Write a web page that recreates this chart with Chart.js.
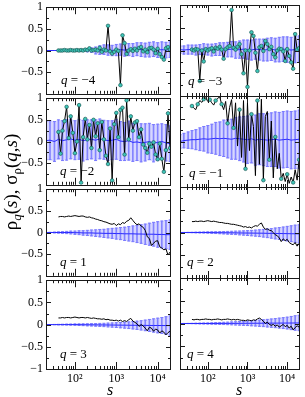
<!DOCTYPE html>
<html>
<head>
<meta charset="utf-8">
<script src="https://cdn.jsdelivr.net/npm/chart.js@4"></script>
<style>
body { margin: 0; background: #fff; }
#wrap { position: relative; width: 305px; height: 397px; font-family: 'Liberation Serif', serif; color: #000; }
#wrap canvas { position: absolute; }
.lab { position: absolute; white-space: nowrap; transform: translateY(-50%); font-size: 13px; }
.xt { position: absolute; font-size: 16px; font-style: italic; transform: translate(-50%, -50%); }
.yt { position: absolute; font-size: 19px; white-space: nowrap; transform: translate(-50%, -50%) rotate(-90deg); }
.yt sub { font-size: 13px; vertical-align: -4px; line-height: 0; }
</style>
</head>
<body>
<div id="wrap"></div>
<script>
// s grid of the rho curves and of the shuffled-data band
var sRho = [40, 45, 50, 56, 63, 71, 79, 89, 100, 112, 126, 141, 158, 178, 200, 224, 251, 282, 316, 355,
    398, 447, 501, 562, 631, 708, 794, 891, 1000, 1122, 1259, 1413, 1585, 1778, 1995, 2239, 2512, 2818, 3162, 3548,
    3981, 4467, 5012, 5623, 6310, 7079, 7943, 8913, 10000, 11220, 12589, 14125, 15849, 17783, 19953];
var sBand = [20, 25, 32, 40, 50, 63, 79, 100, 126, 158, 200, 251, 316, 398, 501, 631, 794, 1000, 1259, 1585,
    1995, 2512, 3162, 3981, 5012, 6310, 7943, 10000, 12589, 15849, 19953];

var xMajor = [100, 1000, 10000];
var xLabels = ['10²', '10³', '10⁴'];
var yTicks = [-1, -0.75, -0.5, -0.25, 0, 0.25, 0.5, 0.75, 1];

// rho_q(s)
var rhoQm4 = [0, 0, 0, 0.01, 0, 0, 0.01, 0, 0, 0.01,
    0, 0.01, 0, 0.02, 0.01, 0.05, 0, 0.01, 0.02, 0,
    0.06, -0.03, 0.02, 0, 0.57, -0.02, -0.07, -0.03, 0.02, -0.01,
    -0.8, 0.35, 0.17, -0.08, 0, 0.03, -0.01, 0.04, 0, 0.06,
    0.08, -0.02, 0.02, -0.04, 0.05, 0.06, 0.02, -0.06, 0.04, -0.08,
    -0.15, -0.21, 0.05, 0.08, 0.02];
var rhoQm3 = [0.02, 0, 0.03, 0.02, -0.67, 0, -0.24, 0.03, 0, 0.03,
    0.05, -0.02, 0.06, 0.04, 0.08, 0.02, -0.18, 0.03, 0.07, 0.1,
    0.89, 0.06, 0.02, 0.08, 0.14, -0.08, -0.5, 0, -0.8, 0,
    0.4, 0.32, -0.05, -0.45, 0.07, 0.1, -0.01, 0.21, 0.14, 0.03,
    0.08, -0.08, -0.15, 0, 0.04, 0.03, -0.02, -0.23, 0.03, -0.12,
    -0.26, -0.4, 0.36, 0.02, 0.05];
var rhoQm2 = [0.22, -0.28, 0.25, 0.47, 0.8, 0.08, 0.58, 0.2, -0.27, 0,
    0.84, -0.95, 0.1, 0.52, 0.05, 0.38, -0.15, 0.5, 0.12, 0.42,
    -0.2, 0.45, 0.05, -0.33, -0.52, 0.3, -0.9, 0.4, 0.66, 0.1,
    0.73, 0.78, -0.3, 0.95, 0.05, 0.58, 0.25, 0.44, 0.47, 0.1,
    0.28, -0.07, -0.15, -0.26, -0.05, -0.12, -0.02, -0.3, -0.41, -0.05,
    -0.4, -0.7, -0.2, 0.65, -0.15];
var rhoQm1 = [0.78, 0.73, 0.7, 0.82, 0.9, 0.86, 0.93, 0.96, 0.88, 0.92,
    0.85, 0.8, 0.9, 0.95, 0.98, 0.82, 0.7, 0.88, 0.4, 0.75,
    0.92, 0.3, 0.85, -0.1, 0.7, -0.35, 0.9, -0.6, 0.85, -0.2,
    0.6, 0.33, -0.75, 0.9, -0.5, 0.93, -0.85, 0.55, 0.66, -0.4,
    0.45, -0.8, 0.1, -0.6, -0.26, -0.82, -0.7, -0.88, -0.72, -0.92,
    -0.78, -0.9, -0.62, -0.85, -0.4];
var rhoQ1 = [0.36, 0.37, 0.37, 0.36, 0.37, 0.38, 0.37, 0.38, 0.39, 0.38,
    0.37, 0.38, 0.38, 0.36, 0.35, 0.36, 0.34, 0.33, 0.31, 0.3,
    0.28, 0.27, 0.25, 0.24, 0.22, 0.2, 0.19, 0.21, 0.16, 0.2,
    0.18, 0.23, 0.21, 0.26, 0.28, 0.34, 0.28, 0.22, 0.18, 0.2,
    0.15, 0.12, 0.05, -0.1, -0.14, -0.3, -0.25, -0.2, -0.19, -0.33,
    -0.36, -0.4, -0.38, -0.52, -0.45];
var rhoQ2 = [0.24, 0.24, 0.25, 0.24, 0.25, 0.25, 0.24, 0.25, 0.26, 0.25,
    0.24, 0.25, 0.24, 0.23, 0.22, 0.22, 0.21, 0.2, 0.2, 0.19,
    0.18, 0.18, 0.17, 0.16, 0.15, 0.14, 0.12, 0.13, 0.11, 0.12,
    0.1, 0.13, 0.15, 0.14, 0.18, 0.21, 0.12, 0.07, 0.08, 0.05,
    0.04, 0, -0.05, -0.07, -0.12, -0.2, -0.14, -0.18, -0.15, -0.22,
    -0.25, -0.27, -0.22, -0.3, -0.24];
var rhoQ3 = [0.15, 0.15, 0.16, 0.15, 0.16, 0.16, 0.15, 0.16, 0.17, 0.16,
    0.15, 0.16, 0.16, 0.15, 0.16, 0.15, 0.14, 0.15, 0.14, 0.13,
    0.13, 0.12, 0.13, 0.11, 0.12, 0.1, 0.1, 0.09, 0.1, 0.08,
    0.1, 0.07, 0.09, 0.07, 0.11, 0.14, 0.08, 0.05, 0.02, -0.04,
    0, -0.03, -0.08, -0.14, -0.06, -0.08, -0.15, -0.1, -0.12, -0.19,
    -0.14, -0.17, -0.23, -0.18, -0.15];
var rhoQ4 = [0.09, 0.08, 0.09, 0.09, 0.08, 0.09, 0.09, 0.1, 0.09, 0.09,
    0.08, 0.09, 0.09, 0.1, 0.09, 0.08, 0.09, 0.09, 0.1, 0.09,
    0.08, 0.09, 0.08, 0.09, 0.08, 0.07, 0.07, 0.06, 0.08, 0.07,
    0.06, 0.08, 0.07, 0.1, 0.12, 0.09, 0.05, 0, 0.03, -0.02,
    -0.04, -0.02, -0.06, -0.03, -0.08, -0.05, -0.02, -0.07, -0.04, -0.1,
    -0.06, -0.14, -0.09, -0.05, -0.08];

// mean and sigma of the shuffled series
var meanQm4 = [0, 0, 0, 0, 0, 0, 0, 0, 0, 0, 0, 0.01, 0, 0.01, 0.02, 0.01, 0, 0.01, 0.02, 0.01, 0.02, 0.01, 0.03, 0.02, 0.01, 0.02, 0.03, 0.01, 0.02, 0.01, 0.02];
var sigQm4 = [0, 0, 0, 0.002, 0.004, 0.006, 0.008, 0.01, 0.015, 0.02, 0.03, 0.05, 0.08, 0.1, 0.11, 0.12, 0.12, 0.13, 0.13, 0.14, 0.14, 0.15, 0.15, 0.16, 0.16, 0.17, 0.17, 0.17, 0.18, 0.18, 0.18];
var meanQm3 = [0.02, 0.01, 0.02, 0.02, 0.01, 0.02, 0.03, 0.02, 0.01, 0.02, 0.03, 0.02, 0.02, 0.03, 0.01, 0.02, 0.03, 0.02, 0.01, 0.03, 0.02, 0.01, 0.02, 0.03, 0.01, 0.02, 0.03, 0.02, 0.01, 0.02, 0.03];
var sigQm3 = [0.08, 0.09, 0.1, 0.1, 0.11, 0.11, 0.12, 0.12, 0.13, 0.13, 0.14, 0.15, 0.16, 0.17, 0.18, 0.19, 0.2, 0.21, 0.22, 0.22, 0.23, 0.24, 0.25, 0.25, 0.26, 0.27, 0.27, 0.28, 0.28, 0.29, 0.29];
var meanQm2 = [0.02, 0.03, 0, 0.05, 0.02, 0.04, 0.06, 0.03, 0.05, 0.02, 0.04, 0.05, 0.03, 0.06, 0.04, 0.02, 0.03, 0.05, 0.01, 0, 0.02, -0.02, -0.01, -0.03, -0.02, 0, -0.04, -0.02, 0, -0.03, -0.05];
var sigQm2 = [0.44, 0.45, 0.46, 0.45, 0.46, 0.47, 0.46, 0.45, 0.46, 0.47, 0.46, 0.45, 0.47, 0.46, 0.45, 0.46, 0.45, 0.46, 0.45, 0.44, 0.45, 0.44, 0.43, 0.44, 0.43, 0.42, 0.43, 0.42, 0.41, 0.42, 0.41];
var meanQm1 = [0, 0.02, 0.03, 0.04, 0.04, 0.05, 0.06, 0.05, 0.06, 0.07, 0.06, 0.07, 0.06, 0.05, 0.07, 0.06, 0.05, 0.04, 0.06, 0.03, 0.05, 0.04, 0.03, 0.04, 0.05, 0.03, 0.04, 0.05, 0.03, 0.04, 0.05];
var sigQm1 = [0.15, 0.16, 0.18, 0.2, 0.22, 0.25, 0.27, 0.3, 0.32, 0.35, 0.37, 0.4, 0.42, 0.44, 0.46, 0.48, 0.5, 0.52, 0.53, 0.55, 0.56, 0.57, 0.58, 0.59, 0.6, 0.61, 0.62, 0.62, 0.63, 0.63, 0.64];
var meanQ1 = [0, 0, 0, 0, 0, 0, 0, -0.005, -0.005, -0.01, -0.01, -0.01, -0.015, -0.015, -0.02, -0.02, -0.02, -0.025, -0.025, -0.03, -0.03, -0.03, -0.035, -0.035, -0.04, -0.04, -0.04, -0.045, -0.045, -0.05, -0.05];
var sigQ1 = [0, 0.005, 0.01, 0.015, 0.02, 0.026, 0.032, 0.038, 0.045, 0.052, 0.06, 0.068, 0.076, 0.085, 0.095, 0.105, 0.116, 0.128, 0.14, 0.153, 0.167, 0.182, 0.198, 0.215, 0.235, 0.255, 0.275, 0.295, 0.31, 0.325, 0.34];
var meanQ2 = [0, 0, 0, 0, 0, 0, 0, 0, -0.002, -0.003, -0.004, -0.005, -0.006, -0.007, -0.008, -0.01, -0.011, -0.012, -0.013, -0.014, -0.015, -0.016, -0.018, -0.02, -0.021, -0.022, -0.024, -0.025, -0.027, -0.028, -0.03];
var sigQ2 = [0, 0.002, 0.004, 0.006, 0.008, 0.01, 0.012, 0.015, 0.018, 0.02, 0.023, 0.026, 0.03, 0.034, 0.038, 0.042, 0.047, 0.053, 0.06, 0.067, 0.075, 0.085, 0.095, 0.105, 0.12, 0.13, 0.145, 0.16, 0.175, 0.19, 0.2];
var meanQ3 = [0, 0, 0, 0, 0, 0, 0, 0, -0.002, -0.003, -0.004, -0.005, -0.006, -0.007, -0.008, -0.009, -0.01, -0.011, -0.012, -0.013, -0.014, -0.015, -0.016, -0.017, -0.018, -0.019, -0.02, -0.02, -0.021, -0.022, -0.022];
var sigQ3 = [0, 0.002, 0.004, 0.006, 0.008, 0.01, 0.012, 0.015, 0.018, 0.021, 0.024, 0.027, 0.03, 0.034, 0.038, 0.043, 0.048, 0.054, 0.06, 0.067, 0.075, 0.084, 0.094, 0.105, 0.12, 0.135, 0.15, 0.165, 0.18, 0.2, 0.22];
var meanQ4 = [0, 0, 0, 0, 0, 0, 0, 0, 0, 0.001, 0.001, 0.002, 0.002, 0.003, 0.003, 0.004, 0.004, 0.005, 0.005, 0.006, 0.006, 0.007, 0.007, 0.008, 0.008, 0.009, 0.009, 0.01, 0.01, 0.011, 0.012];
var sigQ4 = [0, 0.002, 0.003, 0.005, 0.007, 0.009, 0.011, 0.013, 0.016, 0.019, 0.022, 0.025, 0.028, 0.032, 0.036, 0.04, 0.045, 0.05, 0.056, 0.062, 0.069, 0.076, 0.084, 0.092, 0.1, 0.11, 0.12, 0.13, 0.145, 0.16, 0.17];

var panels = [
    {q: '−4', rho: rhoQm4, mean: meanQm4, sig: sigQm4, marks: 1, lx: 61, ly: 80},
    {q: '−3', rho: rhoQm3, mean: meanQm3, sig: sigQm3, marks: 1, lx: 188, ly: 81},
    {q: '−2', rho: rhoQm2, mean: meanQm2, sig: sigQm2, marks: 1, lx: 60, ly: 171},
    {q: '−1', rho: rhoQm1, mean: meanQm1, sig: sigQm1, marks: 3, lx: 189, ly: 173},
    {q: '1', rho: rhoQ1, mean: meanQ1, sig: sigQ1, marks: 0, lx: 60, ly: 262},
    {q: '2', rho: rhoQ2, mean: meanQ2, sig: sigQ2, marks: 0, lx: 187, ly: 262},
    {q: '3', rho: rhoQ3, mean: meanQ3, sig: sigQ3, marks: 0, lx: 60, ly: 354},
    {q: '4', rho: rhoQ4, mean: meanQ4, sig: sigQ4, marks: 0, lx: 187, ly: 354}
];

var panelTop = [5, 96, 187, 278];
var panelH = 91;
var axisH = 22;

Chart.defaults.font.family = "'Liberation Serif', serif";
Chart.defaults.font.size = 12;
Chart.defaults.color = '#000';

// frame and inward ticks on all four sides
var frameTicks = {
    id: 'frameTicks',
    afterDraw: function(chart) {
        var ctx = chart.ctx, a = chart.chartArea, sx = chart.scales.x, sy = chart.scales.y;
        ctx.save();
        ctx.strokeStyle = '#1a1a1a';
        ctx.lineWidth = 1;
        ctx.beginPath();
        yTicks.forEach(function(v) {
            var y = Math.round(sy.getPixelForValue(v)) + 0.5;
            var len = (v * 2) % 1 === 0 ? 5 : 3;
            ctx.moveTo(a.left, y); ctx.lineTo(a.left + len, y);
            ctx.moveTo(a.right, y); ctx.lineTo(a.right - len, y);
        });
        [10, 100, 1000, 10000].forEach(function(d) {
            for (var m = 1; m <= 9; m++) {
                var v = d * m;
                var x = Math.round(sx.getPixelForValue(v)) + 0.5;
                if (x < a.left + 1 || x > a.right - 1) continue;
                var len = m === 1 ? 7 : 3;
                ctx.moveTo(x, a.top); ctx.lineTo(x, a.top + len);
                ctx.moveTo(x, a.bottom); ctx.lineTo(x, a.bottom - len);
            }
        });
        ctx.stroke();
        ctx.strokeRect(Math.round(a.left) + 0.5, Math.round(a.top) + 0.5,
            Math.round(a.right - a.left) - 1, Math.round(a.bottom - a.top));
        ctx.restore();
    }
};

var wrap = document.getElementById('wrap');

panels.forEach(function(p, idx) {
    var row = Math.floor(idx / 2), col = idx % 2;
    var bottom = row === 3;
    var cv = document.createElement('canvas');
    var w = col === 0 ? 176 : 130;
    var h = panelH + 8 + (bottom ? axisH : 8);
    cv.width = w; cv.height = h;
    cv.style.width = w + 'px'; cv.style.height = h + 'px';
    cv.style.left = (col === 0 ? 0 : 175) + 'px';
    cv.style.top = (panelTop[row] - 8) + 'px';
    wrap.appendChild(cv);

    var upper = sBand.map(function(s, k) { return {x: s, y: p.mean[k] + p.sig[k]}; });
    var lower = sBand.map(function(s, k) { return {x: s, y: p.mean[k] - p.sig[k]}; });
    var bars = sBand.map(function(s, k) { return {x: s, y: [p.mean[k] - p.sig[k], p.mean[k] + p.sig[k]]}; });
    var caps = upper.concat(lower);

    new Chart(cv, {
        type: 'line',
        data: {
            datasets: [{
                data: sRho.map(function(s, i) { return {x: s, y: p.rho[i]}; }),
                borderColor: '#000',
                borderWidth: 1,
                tension: 0,
                pointRadius: function(c) { return p.marks && c.dataIndex % p.marks === 0 ? 1.8 : 0; },
                pointBackgroundColor: '#3ec7b9',
                pointBorderColor: '#1d5c58',
                pointBorderWidth: 0.7,
                order: 0
            },
            {
                data: sBand.map(function(s, k) { return {x: s, y: p.mean[k]}; }),
                borderColor: '#2a2aff',
                borderWidth: 1,
                pointRadius: 0,
                order: 1
            },
            {
                data: caps,
                showLine: false,
                pointStyle: 'line',
                pointRadius: 1.5,
                pointBorderColor: '#7a7aff',
                pointBorderWidth: 1,
                order: 2
            },
            {
                type: 'bar',
                data: bars,
                backgroundColor: 'rgba(95,95,255,0.7)',
                barThickness: 1,
                grouped: false,
                order: 3
            },
            {
                data: upper,
                fill: '+1',
                backgroundColor: 'rgba(130,130,255,0.32)',
                borderColor: 'rgba(0,0,0,0)',
                borderWidth: 0,
                pointRadius: 0,
                order: 4
            },
            {
                data: lower,
                fill: false,
                borderColor: 'rgba(0,0,0,0)',
                borderWidth: 0,
                pointRadius: 0,
                order: 5
            }]
        },
        options: {
            responsive: false,
            animation: false,
            devicePixelRatio: 1,
            layout: {padding: {left: 0, right: col === 0 ? 1 : 2, top: 8, bottom: bottom ? 0 : 8}},
            plugins: {legend: {display: false}, tooltip: {enabled: false}},
            scales: {
                x: {
                    type: 'logarithmic',
                    min: 20,
                    max: 21000,
                    offset: false,
                    display: bottom,
                    grid: {display: false, drawTicks: false},
                    border: {display: false},
                    ticks: {
                        autoSkip: false,
                        maxRotation: 0,
                        padding: 3,
                        font: {size: 12},
                        callback: function(v) {
                            for (var j = 0; j < xMajor.length; j++) {
                                if (Math.abs(v - xMajor[j]) < 1e-6 * xMajor[j]) return xLabels[j];
                            }
                            return '';
                        }
                    },
                    afterFit: function(s) { if (bottom) s.height = axisH; }
                },
                y: {
                    min: -1,
                    max: 1,
                    display: col === 0,
                    grid: {display: false, drawTicks: false},
                    border: {display: false},
                    ticks: {
                        stepSize: 0.5,
                        autoSkip: false,
                        padding: 3,
                        font: {size: 12},
                        callback: function(v) {
                            if (v === -1 && !bottom) return '';
                            if (v === 0) return '0';
                            return String(v).replace('-', '−');
                        }
                    },
                    afterFit: function(s) { if (col === 0) s.width = 46; }
                }
            }
        },
        plugins: [frameTicks]
    });

    var lab = document.createElement('div');
    lab.className = 'lab';
    lab.style.left = p.lx + 'px';
    lab.style.top = p.ly + 'px';
    lab.innerHTML = '<i>q</i> = ' + p.q;
    wrap.appendChild(lab);
});

var xt1 = document.createElement('div');
xt1.className = 'xt'; xt1.style.left = '110px'; xt1.style.top = '390px'; xt1.textContent = 's';
wrap.appendChild(xt1);
var xt2 = document.createElement('div');
xt2.className = 'xt'; xt2.style.left = '239px'; xt2.style.top = '390px'; xt2.textContent = 's';
wrap.appendChild(xt2);

var yt = document.createElement('div');
yt.className = 'yt'; yt.style.left = '11px'; yt.style.top = '182px';
yt.innerHTML = 'ρ<sub><i>q</i></sub>(<i>s</i>), σ<sub>ρ</sub>(<i>q</i>,<i>s</i>)';
wrap.appendChild(yt);
</script>
</body>
</html>
